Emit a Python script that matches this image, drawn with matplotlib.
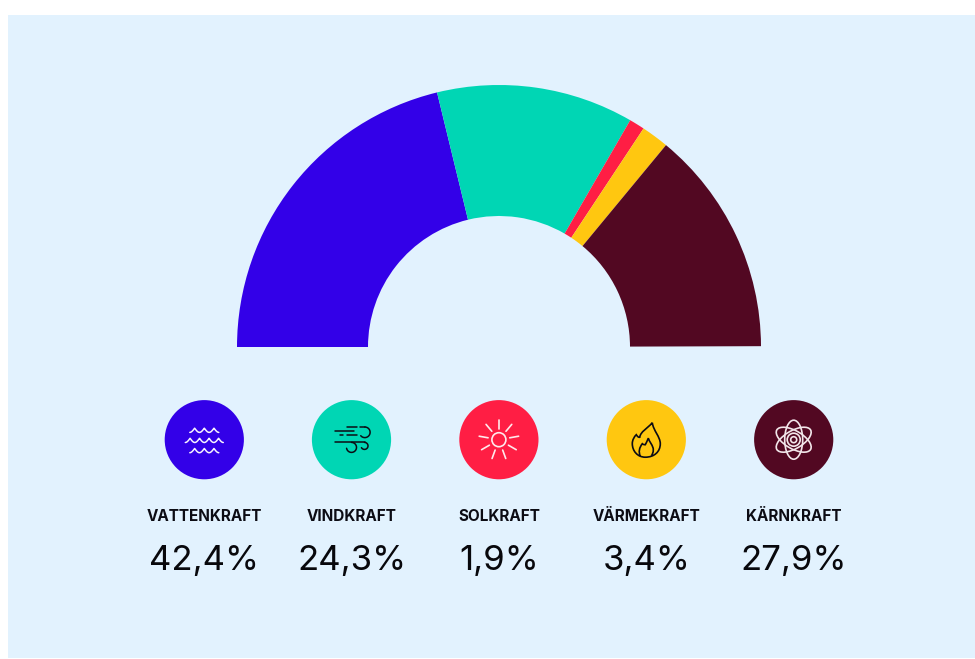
import numpy as np
import matplotlib
matplotlib.use('Agg')
import matplotlib.pyplot as plt
from matplotlib.patches import Circle, Ellipse, PathPatch, Rectangle
from matplotlib.path import Path

plt.rcParams['font.family'] = ['Inter', 'DejaVu Sans']

labels = ['VATTENKRAFT', 'VINDKRAFT', 'SOLKRAFT', 'VÄRMEKRAFT', 'KÄRNKRAFT']
values = [42.4, 24.3, 1.9, 3.4, 27.9]
colors = ['#3300E8', '#00D6B4', '#FF1E44', '#FFC710', '#520822']

BG = '#E2F2FE'
INK = '#0C0C14'
W, H = 975, 659
CX, CY = 499, H - 347
ICON_X = [204.3, 351.5, 498.9, 646.3, 793.7]
ICON_Y = H - 439.7

fig = plt.figure(figsize=(W / 100, H / 100), dpi=100, facecolor='white')
ax = fig.add_axes([0, 0, 1, 1])
ax.set_xlim(0, W)
ax.set_ylim(0, H)
ax.axis('off')

ax.add_patch(Rectangle((8, 1), W - 8, H - 16, fc=BG, ec='none', zorder=0))

# half donut, values sum to 100 so /200 fills half of the circle
ax.pie([v / 200 for v in values], colors=colors, normalize=False, startangle=180,
       counterclock=False, center=(CX, CY), radius=262,
       wedgeprops={'width': 131, 'linewidth': 0}, frame=True)
ax.set_xlim(0, W)
ax.set_ylim(0, H)
ax.set_aspect('auto')
ax.axis('off')


def stroke(xs, ys, c, lw=1.1):
    ax.plot(xs, ys, color=c, lw=lw, solid_capstyle='round', solid_joinstyle='round', zorder=5)


def arc(x, y, r, a0, a1, c, lw=1.1):
    t = np.radians(np.linspace(a0, a1, 40))
    stroke(x + r * np.cos(t), y + r * np.sin(t), c, lw)


def curve(x, y, pts, c):
    verts = [(x + a, y + b) for a, b in pts]
    codes = [Path.MOVETO] + [Path.CURVE4] * (len(pts) - 1)
    ax.add_patch(PathPatch(Path(verts, codes), fc='none', ec=c, lw=1.2, zorder=5))


def icon_water(x, y, c):
    for dy, half, n in [(7.3, 14.5, 3), (-2.8, 19, 4), (-13, 14.5, 3)]:
        t = np.linspace(0, 1, 241)
        xs = x - half + 2 * half * t
        ys = y + dy + 4.2 * (1 - np.abs(np.cos(np.pi * n * t)))
        stroke(xs, ys, c, 1.1)


def icon_wind(x, y, c):
    stroke([x - 5, x + 5], [y + 12.7, y + 12.7], c)
    stroke([x + 8, x + 13.3], [y + 12.7, y + 12.7], c)
    arc(x + 13.3, y + 7.4, 5.3, 90, -140, c)
    stroke([x - 17, x + 2], [y + 8.3, y + 8.3], c)
    stroke([x - 12, x - 8.5], [y + 5, y + 5], c)
    stroke([x - 5, x + 5], [y + 4.7, y + 4.7], c)
    stroke([x - 17, x + 13], [y - 2.7, y - 2.7], c)
    arc(x + 13, y - 6.2, 3.5, 90, -150, c)
    arc(x, y - 7.7, 5, 90, -170, c)


def icon_sun(x, y, c):
    ax.add_patch(Circle((x, y), 7, fc='none', ec=c, lw=1.2, zorder=5))
    for a in range(90, 450, 40):
        t = np.radians(a)
        stroke([x + 11 * np.cos(t), x + 20 * np.cos(t)],
               [y + 11 * np.sin(t), y + 20 * np.sin(t)], c, 1.2)


def icon_flame(x, y, c):
    curve(x, y, [(6, 17), (7, 9), (14, 3), (14, -4),
                 (14, -12), (8, -17.5), (-1, -17.5),
                 (-9, -17.5), (-14, -11), (-14, -4),
                 (-14, 0), (-12, 3), (-10, 5),
                 (-9, 3.5), (-8, 2), (-6.5, 2.5),
                 (-6, 8), (1, 11), (6, 17)], c)
    curve(x, y, [(-6, -16.5), (-8, -12), (-7, -8), (-4, -4),
                 (-3, -5), (-2, -5), (-1, -5),
                 (0, -3), (1, -1), (2, 1.5),
                 (3, -2), (7, -6), (7, -10),
                 (7, -13), (6, -15), (5, -16)], c)


def icon_atom(x, y, c):
    for a in [0, 60, -60]:
        ax.add_patch(Ellipse((x, y), 18, 39, angle=a, fc='none', ec=c, lw=1.2, zorder=5))
    ax.add_patch(Circle((x, y), 6.5, fc='none', ec=c, lw=1.2, zorder=5))
    ax.add_patch(Circle((x, y), 3, fc='none', ec=c, lw=1.2, zorder=5))


icons = [icon_water, icon_wind, icon_sun, icon_flame, icon_atom]
icon_cols = ['#F6F2FF', INK, '#FFE9EC', INK, '#F2E6EA']

for i in range(len(labels)):
    x = ICON_X[i]
    ax.add_patch(Circle((x, ICON_Y), 39.6, fc=colors[i], ec='none', zorder=4))
    icons[i](x, ICON_Y, icon_cols[i])
    ax.text(x, H - 516.3, labels[i], ha='center', va='center', fontsize=11,
            fontweight='bold', color=INK)
    pct = f'{values[i]:.1f}'.replace('.', ',') + '%'
    ax.text(x, H - 560.5, pct, ha='center', va='center', fontsize=25, color='#08080C')

fig.savefig('out.png', dpi=100)
